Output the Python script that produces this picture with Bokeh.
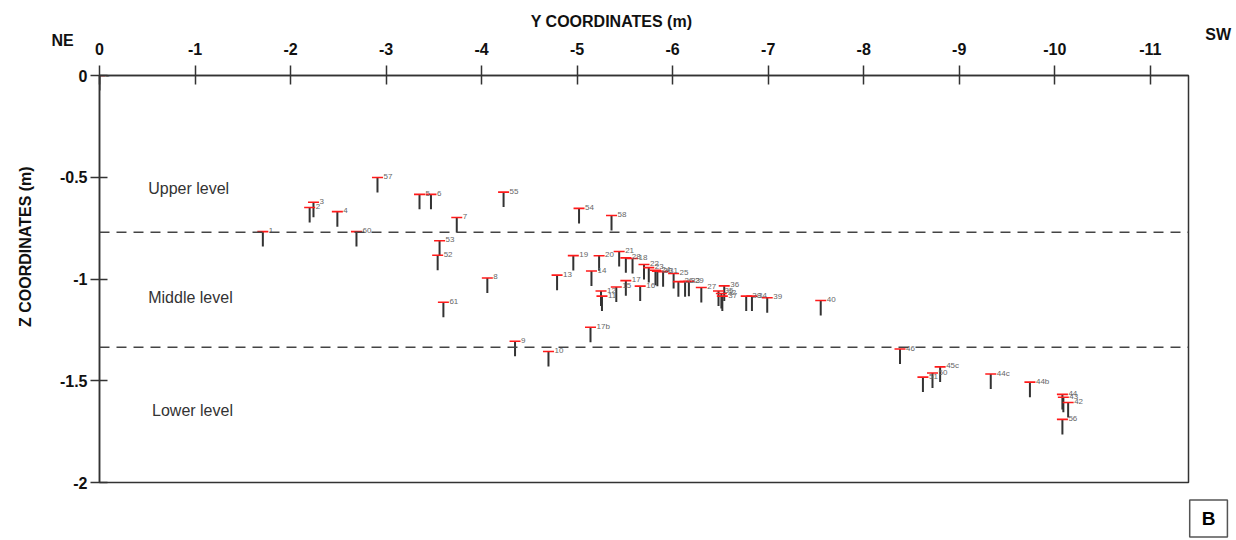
import math
from bokeh.plotting import figure
from bokeh.models import (Range1d, FixedTicker, Span, Label, ColumnDataSource,
                          NumeralTickFormatter)
from bokeh.embed import file_html
from bokeh.resources import INLINE
from bokeh.core.properties import value

# ---------------- data ----------------
point_labels = ["0", "1", "2", "3", "4", "60", "57", "5", "6", "7",
                "53", "52", "61", "8", "55", "54", "58", "9", "10", "17b",
                "13", "19", "14", "20", "21", "28", "18", "12", "11", "15",
                "17", "16", "22", "23", "24", "30", "31", "25", "26", "33",
                "29", "27", "36", "35", "32", "37", "38", "34", "39", "40",
                "46", "51", "50", "45c", "44c", "44b", "44", "43", "42", "56"]

y_coords = [0.0, -1.71, -2.20, -2.24, -2.49, -2.69, -2.91, -3.35, -3.47, -3.74,
            -3.56, -3.54, -3.60, -4.06, -4.23, -5.02, -5.36, -4.35, -4.70, -5.14,
            -4.79, -4.96, -5.15, -5.23, -5.44, -5.51, -5.58, -5.25, -5.26, -5.41,
            -5.51, -5.66, -5.70, -5.75, -5.82, -5.84, -5.90, -6.01, -6.06, -6.13,
            -6.17, -6.30, -6.54, -6.48, -6.51, -6.52, -6.77, -6.83, -6.99, -7.55,
            -8.38, -8.62, -8.72, -8.80, -9.33, -9.74, -10.08, -10.09, -10.14, -10.08]

z_coords = [0.0, -0.767, -0.649, -0.623, -0.669, -0.767, -0.501, -0.584, -0.584, -0.698,
            -0.812, -0.883, -1.114, -0.995, -0.573, -0.653, -0.688, -1.306, -1.356, -1.237,
            -0.981, -0.885, -0.961, -0.886, -0.865, -0.896, -0.899, -1.059, -1.084, -1.039,
            -1.008, -1.035, -0.929, -0.944, -0.957, -0.962, -0.964, -0.973, -1.013, -1.013,
            -1.011, -1.042, -1.034, -1.059, -1.071, -1.084, -1.084, -1.084, -1.092, -1.106,
            -1.344, -1.482, -1.462, -1.432, -1.467, -1.507, -1.567, -1.581, -1.607, -1.690]

x_ticks = [0, -1, -2, -3, -4, -5, -6, -7, -8, -9, -10, -11]
z_ticks = [0, -0.5, -1, -1.5, -2]

level_boundaries = [-0.77, -1.335]
level_names = ["Upper level", "Middle level", "Lower level"]
level_text_y = [-0.51, -0.51, -0.55]
level_text_z = [-0.557, -1.092, -1.646]

FONT = "Liberation Sans"

# ---------------- figure ----------------
p = figure(width=1236, height=540, output_backend="svg", toolbar_location=None,
           x_range=Range1d(0, -11.4), y_range=Range1d(-2, 0),
           x_axis_location="above",
           min_border_left=99, min_border_right=48,
           min_border_top=75, min_border_bottom=58)

p.grid.visible = False
p.outline_line_color = "#333333"
p.outline_line_width = 1.5
p.background_fill_color = "white"
p.border_fill_color = "white"

for ax in (p.xaxis[0], p.yaxis[0]):
    ax.axis_line_color = "#333333"
    ax.axis_line_width = 1.5
    ax.major_tick_line_color = "#333333"
    ax.major_tick_line_width = 1.5
    ax.minor_tick_line_color = None
    ax.major_label_text_font = FONT
    ax.major_label_text_font_style = "bold"
    ax.major_label_text_font_size = "16px"
    ax.major_label_text_color = "#111111"

p.xaxis.ticker = FixedTicker(ticks=x_ticks)
p.xaxis.formatter = NumeralTickFormatter(format="0")
p.xaxis.major_tick_in = 9
p.xaxis.major_tick_out = 10
p.xaxis.major_label_standoff = 11

p.yaxis.ticker = FixedTicker(ticks=z_ticks)
p.yaxis.formatter = NumeralTickFormatter(format="0.[0]")
p.yaxis.major_tick_in = 8
p.yaxis.major_tick_out = 9
p.yaxis.major_label_standoff = 3

# level boundaries
for b in level_boundaries:
    p.add_layout(Span(location=b, dimension="width", line_color="#444444",
                      line_width=1.5, line_dash="10 7"))

# points
src = ColumnDataSource(dict(y=y_coords, z=z_coords, label=point_labels))
p.ray(x="y", y="z", length=15, length_units="screen", angle=-math.pi / 2,
      line_color="#333333", line_width=2, source=src)
p.scatter(x="y", y="z", marker="dash", size=11, line_color="#ff1a1a",
          line_width=1.6, source=src)
p.text(x="y", y="z", text="label", x_offset=6, y_offset=-1,
       text_font=value(FONT), text_font_size="8px", text_color="#666666",
       text_baseline="middle", text_align="left", source=src)

# level names
for name, ty, tz in zip(level_names, level_text_y, level_text_z):
    p.add_layout(Label(x=ty, y=tz, text=name, text_font=FONT,
                       text_font_size="16px", text_color="#333333",
                       text_align="left", text_baseline="middle"))

# titles and corner texts (placed in side panels so they are not clipped)
p.add_layout(Label(x=-5.36, y=0.265, text="Y COORDINATES (m)", text_font=FONT,
                   text_font_size="16px", text_font_style="bold",
                   text_color="#111111", text_align="center", text_baseline="middle"), "above")
p.add_layout(Label(x=0.387, y=0.17, text="NE", text_font=FONT,
                   text_font_size="16px", text_font_style="bold",
                   text_color="#111111", text_align="center", text_baseline="middle"), "left")
p.add_layout(Label(x=-11.71, y=0.2, text="SW", text_font=FONT,
                   text_font_size="16px", text_font_style="bold",
                   text_color="#111111", text_align="center", text_baseline="middle"), "right")
p.add_layout(Label(x=0.775, y=-0.841, text="Z COORDINATES (m)", text_font=FONT,
                   text_font_size="16px", text_font_style="bold", angle=math.pi / 2,
                   text_color="#111111", text_align="center", text_baseline="middle"), "left")
p.add_layout(Label(x=-11.61, y=-2.177, text="B", text_font=FONT,
                   text_font_size="19px", text_font_style="bold",
                   text_color="#000000", text_align="center", text_baseline="middle",
                   border_line_color="#555555", border_line_width=1.5,
                   background_fill_color="white", padding=(12, 8)), "below")

open("out.html", "w").write(file_html(p, INLINE))
